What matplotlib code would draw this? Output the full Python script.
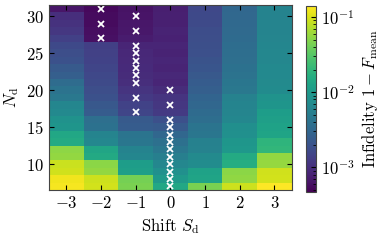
import numpy as np
import matplotlib
matplotlib.use("Agg")
import matplotlib.pyplot as plt
from matplotlib.colors import LogNorm

plt.rcParams['font.family'] = 'serif'
plt.rcParams['font.serif'] = ['cmr10']
plt.rcParams['mathtext.fontset'] = 'cm'
plt.rcParams['axes.formatter.use_mathtext'] = True
plt.rcParams['font.size'] = 12

shifts = [-3, -2, -1, 0, 1, 2, 3]
n_d = list(range(7, 32))

# infidelity per shift, rows N_d = 7 ... 31
inf_m3 = [1.3e-1, 1.25e-1, 9.2e-2, 8.8e-2, 5.6e-2, 5.3e-2, 1.5e-2, 1.4e-2, 9.1e-3, 8.6e-3,
          6.8e-3, 6.4e-3, 4.6e-3, 4.1e-3, 3.45e-3, 2.6e-3, 2.3e-3, 1.95e-3, 1.8e-3, 1.64e-3,
          1.38e-3, 1.17e-3, 1.05e-3, 1.0e-3, 6.5e-4]
inf_m2 = [9.5e-2, 9.0e-2, 5.5e-2, 5.2e-2, 1.45e-2, 1.35e-2, 6.6e-3, 6.2e-3, 3.9e-3, 3.7e-3,
          2.4e-3, 2.2e-3, 1.95e-3, 1.8e-3, 1.7e-3, 1.6e-3, 1.5e-3, 1.45e-3, 1.4e-3, 1.35e-3,
          6.0e-4, 5.8e-4, 5.6e-4, 5.5e-4, 5.3e-4]
inf_m1 = [4.5e-2, 4.3e-2, 1.15e-2, 1.1e-2, 6.4e-3, 6.0e-3, 4.4e-3, 4.2e-3, 2.4e-3, 2.3e-3,
          1.5e-3, 1.45e-3, 1.2e-3, 1.1e-3, 1.0e-3, 9.5e-4, 9.3e-4, 9.0e-4, 8.8e-4, 8.5e-4,
          7.2e-4, 6.8e-4, 6.6e-4, 6.4e-4, 6.2e-4]
inf_0 = [1.4e-2, 1.0e-2, 8.0e-3, 6.6e-3, 5.4e-3, 4.5e-3, 3.8e-3, 3.1e-3, 2.3e-3, 1.9e-3,
         1.25e-3, 1.15e-3, 1.1e-3, 9.5e-4, 8.5e-4, 8.8e-4, 8.3e-4, 8.6e-4, 8.1e-4, 8.4e-4,
         7.9e-4, 8.1e-4, 7.7e-4, 7.8e-4, 7.5e-4]
inf_1 = [4.5e-2, 1.3e-2, 1.25e-2, 7.4e-3, 7.0e-3, 5.9e-3, 5.6e-3, 4.4e-3, 4.2e-3, 3.6e-3,
         3.4e-3, 3.1e-3, 2.9e-3, 2.6e-3, 2.4e-3, 2.25e-3, 2.1e-3, 2.0e-3, 1.9e-3, 1.85e-3,
         1.8e-3, 1.75e-3, 1.7e-3, 1.65e-3, 1.6e-3]
inf_2 = [9.0e-2, 5.4e-2, 5.2e-2, 1.6e-2, 1.5e-2, 9.7e-3, 9.3e-3, 8.1e-3, 7.8e-3, 6.5e-3,
         6.3e-3, 6.1e-3, 5.9e-3, 4.6e-3, 4.4e-3, 4.1e-3, 3.9e-3, 3.7e-3, 3.6e-3, 3.5e-3,
         3.4e-3, 3.3e-3, 3.2e-3, 3.15e-3, 3.1e-3]
inf_3 = [1.41e-1, 9.5e-2, 9.2e-2, 5.7e-2, 5.5e-2, 2.0e-2, 1.9e-2, 1.3e-2, 1.25e-2, 1.15e-2,
         1.1e-2, 9.1e-3, 8.8e-3, 7.2e-3, 7.0e-3, 6.9e-3, 6.8e-3, 6.6e-3, 6.5e-3, 6.4e-3,
         6.3e-3, 6.2e-3, 6.1e-3, 6.05e-3, 6.0e-3]

# optimal points (shift, N_d)
opt_shift = [-2, -2, -2,
             -1, -1, -1, -1, -1, -1, -1, -1, -1, -1,
             0, 0, 0, 0, 0, 0, 0, 0, 0, 0, 0, 0]
opt_nd = [31, 29, 27,
          30, 28, 26, 25, 24, 23, 22, 21, 19, 17,
          20, 18, 16, 15, 14, 13, 12, 11, 10, 9, 8, 7]

Z = np.array([inf_m3, inf_m2, inf_m1, inf_0, inf_1, inf_2, inf_3]).T

fig = plt.figure(figsize=(3.82, 2.40), dpi=100)
ax = fig.add_axes([0.128, 0.208, 0.636, 0.771])
cax = fig.add_axes([0.802, 0.200, 0.026, 0.775])

mesh = ax.pcolormesh(shifts, n_d, Z, shading='nearest', cmap='viridis',
                     norm=LogNorm(vmin=4.7e-4, vmax=0.14))
ax.plot(opt_shift, opt_nd, 'x', color='white', ms=4, mew=1.3)

ax.set_xticks(shifts)
ax.set_yticks([10, 15, 20, 25, 30])
ax.tick_params(direction='in', top=True, right=True, length=3.5, width=0.8)
ax.set_xlabel(r'Shift $S_\mathrm{d}$')
ax.set_ylabel(r'$N_\mathrm{d}$')
for s in ax.spines.values():
    s.set_color('#444444')

cb = fig.colorbar(mesh, cax=cax)
cb.ax.tick_params(which='both', direction='in')
cb.set_label(r'Infidelity $1 - F_\mathrm{mean}$')
cb.outline.set_edgecolor('#444444')

fig.savefig('out.png', dpi=100)
